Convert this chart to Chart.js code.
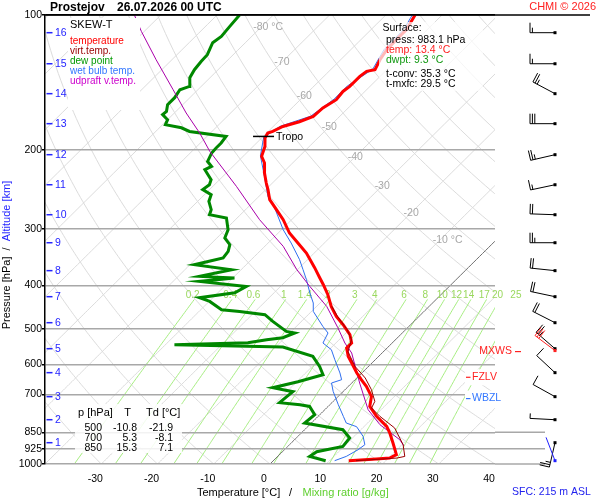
<!DOCTYPE html>
<html>
<head>
<meta charset="utf-8">
<title>Prostejov 26.07.2026 00 UTC</title>
<script src="https://cdn.jsdelivr.net/npm/chart.js@4.4.1/dist/chart.umd.min.js"></script>
<style>
    html, body { margin: 0; padding: 0; background: #fff; }
    canvas { display: block; }
</style>
</head>
<body>
<canvas id="skewt" width="600" height="500"></canvas>
<script>
'use strict'

// temperature
var tempP = [983.1, 974.7, 969.7, 953.4, 898, 852.6, 824.6, 783.4, 744.3, 707, 671.7, 649, 627, 595.7, 575.9, 551.6, 537.7, 515.3, 489.5, 469.1, 445.7, 419.7, 398.7, 384.7, 365.4, 338.9, 322, 305.9, 285.7, 271.4, 257.8, 244.9, 236.7, 224.9, 213.6, 206.5, 196.2, 187.9, 183.2, 181.7, 177.1, 172.9, 168.2, 161.1, 154.4, 148, 144.2, 137, 133.5, 132.4, 125.8, 119.5, 113.5, 107.8, 100];
var tempT = [13.4, 18.0, 20.2, 20.8, 18.1, 15.7, 14.0, 10.4, 7.4, 5.9, 3.2, 1.1, -0.9, -3.6, -5.4, -7.2, -7.2, -9.0, -12.0, -14.7, -17.4, -20.1, -22.7, -24.6, -27.3, -31.4, -34.7, -38.0, -41.5, -44.5, -47.5, -49.6, -51.1, -53.2, -55.0, -56.7, -57.9, -59.4, -59.8, -59.2, -58.3, -56.2, -54.7, -54.5, -53.6, -53.9, -53.6, -53.6, -53.3, -52.1, -53.0, -53.6, -53.7, -53.7, -54.8];

// dew point
var dewP = [983.1, 961.8, 938.9, 913.7, 875.2, 838.7, 810.4, 776.6, 744.3, 737.8, 730.2, 708.2, 690.2, 676.2, 655.7, 632.6, 606.2, 575.9, 548.8, 542.4, 536.9, 528.7, 523.3, 510.8, 506.6, 481.3, 465, 457.2, 453.3, 434.4, 426.2, 415.4, 402.2, 392, 385.3, 382.1, 369.2, 359.8, 347.7, 336.1, 324.8, 313.8, 300.8, 283.2, 278.5, 271.4, 260.1, 251.3, 244.9, 238.8, 232.7, 221.1, 217.4, 211.9, 202.9, 197.8, 192.8, 186.4, 181.7, 178.3, 175.5, 171.1, 166.7, 163.9, 158.4, 152.8, 146.7, 144.2, 137.9, 132.4, 126.9, 122.6, 115.3, 111.6, 106, 100];
var dewT = [9.3, 5.7, 6.1, 9.8, 9.5, 6.8, -1.2, -0.9, -3.3, -5.3, -9.3, -9.1, -8.9, -13.2, -9.8, -6.6, -8.7, -11.7, -18.7, -38.4, -25.7, -22.9, -20.4, -19.1, -20.9, -25.1, -27.7, -32.8, -36.3, -39.9, -42.4, -37.0, -36.1, -45.3, -39.7, -46.2, -41.7, -49.2, -45.3, -45.6, -46.5, -48.6, -49.5, -51.9, -55.5, -56.1, -58.0, -58.8, -61.2, -60.9, -61.5, -64.4, -63.8, -65.4, -66.2, -66.3, -66.3, -66.6, -74.0, -76.1, -79.5, -80.0, -81.8, -81.7, -82.7, -82.7, -83.2, -82.1, -83.6, -84.2, -84.5, -84.6, -85.8, -85.4, -85.7, -86.0];

// wet bulb temperature
var wetP = [983.1, 961.8, 929.3, 905.8, 868, 825.9, 810.4, 783.4, 737.8, 689.2, 660.1, 649, 627, 585.7, 556.5, 537.7, 510.8, 493.8, 457.2, 438, 416.1, 388.6, 369.2, 350.8, 322, 300.8, 268.6, 253.5, 228.8, 206, 187, 177, 168, 154, 144, 132, 119.5, 107.8, 100];
var wetT = [10.9, 12.2, 13.1, 13.4, 11.6, 8.7, 6.2, 4.5, 1.5, -1.8, -3.6, -2.4, -3.9, -7.2, -9.6, -12.3, -13.2, -15.3, -19.7, -21.2, -23.6, -26.6, -29.0, -31.4, -35.9, -39.7, -45.2, -48.4, -52.6, -57.0, -59.8, -58.8, -55.2, -54.1, -54.1, -52.6, -54.1, -54.2, -55.3];

// virtual temperature
var virtP = [983.1, 970, 961.8, 905.8, 831.4, 783.4, 750.4, 725.4, 683.2, 643.4, 606.2, 562.2, 528.7, 502.2, 469, 445.7];
var virtT = [14.7, 21.5, 22.6, 20.2, 15.7, 11.0, 8.0, 7.4, 4.7, 1.5, -2.4, -6.3, -7.8, -10.4, -14.5, -17.3];

// updraft virtual temperature
var updP = [910.4, 882.8, 817.5, 757, 660.1, 566, 537.7, 497.1, 445.7, 402.2, 369.2, 327.6, 285.7, 240.8, 201.3, 183.2, 165.3, 146.7, 125.8, 108.8, 100];
var updT = [20.5, 18.7, 12.5, 7.7, 1.4, -5.4, -8.4, -12.4, -18.2, -24.8, -30.1, -36.7, -45.7, -55.8, -66.8, -71.9, -77.9, -84.4, -92.8, -100.5, -104.7];

// axes
var X_TICKS = [-30, -20, -10, 0, 10, 20, 30, 40];
var P_TICKS = [100, 200, 300, 400, 500, 600, 700, 850, 925, 1000];
var ALT_KM = [1, 2, 3, 4, 5, 6, 7, 8, 9, 10, 11, 12, 13, 14, 15, 16];
var ALT_P = [896.5, 796.8, 708, 626, 553.6, 484.5, 424, 371, 321.5, 278.5, 238.8, 204.7, 174.6, 149.7, 128.4, 109.5];

// background isopleths
var ISO_LABEL_T = [-80, -70, -60, -50, -40, -30, -20, -10];
var ISO_LABEL_P = [106.6, 127.4, 151.3, 177.3, 206.8, 240, 275.7, 316.5];
var MIX_RATIOS = [0.2, 0.4, 0.6, 1, 1.4, 2, 3, 4, 6, 8, 10, 12, 14, 17, 20, 25];

// winds at the altitude levels (deg, kt)
var windDir = [193, 273, 299, 313, 311, 297, 282, 276, 270, 272, 258, 257, 270, 298, 270, 270];
var windSpd = [25, 5, 10, 10, 25, 20, 20, 20, 25, 20, 15, 25, 30, 25, 15, 15];
var SFC_WIND = [983.1, 339, 3];
var MXWS = [559, 307, 30];

// levels and tables
var TROPO = [186.4, -59.5];
var FZLV_P = 641;
var WBZL_P = 715;
var TABLE_P = [500, 700, 850];
var TABLE_T = [-10.8, 5.3, 15.3];
var TABLE_TD = [-21.9, -8.1, 7.1];
var SURFACE = { press: 983.1, temp: 13.4, dwpt: 9.3, tconv: 35.3, tmxfc: 29.5 };

var SKEW = 35;
var FONT = '"Liberation Sans", Arial, sans-serif';

function skewX(t, p) { return t + SKEW * Math.log(1000 / p); }

function toPoints(ps, ts) {
    return ps.map(function (p, i) { return { x: skewX(ts[i], p), y: p }; });
}

function mixTd(w, p) {
    var e = w * p / (622 + w);
    var a = Math.log(e / 6.112);
    return 243.5 * a / (17.67 - a);
}

function dryT(theta, p) { return (theta + 273.15) * Math.pow(p / 1000, 0.2857) - 273.15; }

function text(ctx, s, x, y, color, size, align, bold) {
    ctx.font = (bold ? 'bold ' : '') + size + 'px ' + FONT;
    ctx.fillStyle = color;
    ctx.textAlign = align || 'left';
    ctx.textBaseline = 'middle';
    ctx.fillText(s, x, y);
}

function line(ctx, x1, y1, x2, y2, color, width) {
    ctx.beginPath();
    ctx.moveTo(x1, y1);
    ctx.lineTo(x2, y2);
    ctx.strokeStyle = color;
    ctx.lineWidth = width;
    ctx.stroke();
}

function drawBarb(ctx, x, y, dir, spd, color) {
    var r = dir * Math.PI / 180, ux = Math.sin(r), uy = -Math.cos(r), nx = -uy, ny = ux;
    var ex = x + ux * 25, ey = y + uy * 25;
    var full = Math.floor(spd / 10), half = spd % 10 >= 5;
    ctx.beginPath();
    ctx.moveTo(x, y);
    ctx.lineTo(ex, ey);
    for (var k = 0; k < full; k++) {
        var bx = ex - ux * k * 2.4, by = ey - uy * k * 2.4;
        ctx.moveTo(bx, by);
        ctx.lineTo(bx + nx * 10, by + ny * 10);
    }
    if (half) {
        var hx = ex - ux * full * 2.4, hy = ey - uy * full * 2.4;
        ctx.moveTo(hx, hy);
        ctx.lineTo(hx + nx * 5, hy + ny * 5);
    }
    ctx.strokeStyle = color;
    ctx.lineWidth = 1;
    ctx.stroke();
    ctx.fillStyle = color;
    ctx.fillRect(x - 1.5, y - 1.5, 3, 3);
}

var backgroundLines = {
    id: 'backgroundLines',
    beforeDraw: function (chart) {
        var ctx = chart.ctx, a = chart.chartArea, xs = chart.scales.x, ys = chart.scales.y;
        ctx.save();
        ctx.fillStyle = '#fff';
        ctx.fillRect(0, 0, chart.width, chart.height);
        ctx.beginPath();
        ctx.rect(a.left, a.top, a.right - a.left, a.bottom - a.top);
        ctx.clip();

        function curve(fn, pTop, color) {
            ctx.beginPath();
            for (var p = 1000; p >= pTop; p -= 5) {
                var px = xs.getPixelForValue(skewX(fn(p), p)), py = ys.getPixelForValue(p);
                if (p === 1000) ctx.moveTo(px, py); else ctx.lineTo(px, py);
            }
            ctx.strokeStyle = color;
            ctx.lineWidth = 1;
            ctx.stroke();
        }

        var t;
        for (t = -120; t <= 40; t += 10) {
            if (t !== 0) curve(function () { return t; }, 100, '#dcdcdc');
        }
        for (t = -40; t <= 180; t += 10) {
            curve(function (p) { return dryT(t, p); }, 100, '#dcdcdc');
        }
        MIX_RATIOS.forEach(function (w) {
            curve(function (p) { return mixTd(w, p); }, 430, '#a6ee80');
        });
        curve(function () { return 0; }, 100, '#707070');
        ctx.restore();
    },
    beforeDatasetsDraw: function (chart) {
        var ctx = chart.ctx, xs = chart.scales.x, ys = chart.scales.y;
        ctx.save();
        ISO_LABEL_T.forEach(function (t, i) {
            var p = ISO_LABEL_P[i];
            var px = xs.getPixelForValue(skewX(t, p)), py = ys.getPixelForValue(p);
            ctx.font = '10.5px ' + FONT;
            var w = ctx.measureText(String(t)).width;
            var s = (t === -80 || t === -10) ? t + ' °C' : String(t);
            text(ctx, s, px - w / 2, py, '#a8a8a8', 10.5, 'left');
        });
        MIX_RATIOS.forEach(function (w) {
            var p = 420;
            var px = xs.getPixelForValue(skewX(mixTd(w, p), p)) - 5, py = ys.getPixelForValue(p);
            text(ctx, String(w), px, py, '#9ad85e', 10, 'center');
        });
        ctx.restore();
    }
};

var overlay = {
    id: 'overlay',
    afterDraw: function (chart) {
        var ctx = chart.ctx, a = chart.chartArea, xs = chart.scales.x, ys = chart.scales.y;
        ctx.save();

        // frame and extended lines
        line(ctx, a.left, a.top, 590, a.top, '#000', 1.5);
        [850, 925, 1000].forEach(function (p) {
            var y = ys.getPixelForValue(p);
            line(ctx, a.right, y, 545, y, '#a8a8a8', 1.5);
        });

        // altitude scale
        ALT_KM.forEach(function (km, i) {
            var y = ys.getPixelForValue(ALT_P[i]);
            line(ctx, a.left + 1.5, y, a.left + 7.5, y, '#2424ff', 1.5);
            text(ctx, String(km), a.left + 10, y, '#2424ff', 10.5, 'left');
        });

        // tropopause
        var tx = xs.getPixelForValue(skewX(TROPO[1], TROPO[0])), ty = ys.getPixelForValue(TROPO[0]);
        line(ctx, tx - 13, ty, tx + 8, ty, '#000', 1.5);
        text(ctx, 'Tropo', tx + 10, ty + 1, '#000', 10.5, 'left');

        // levels
        var fy = ys.getPixelForValue(FZLV_P), wy = ys.getPixelForValue(WBZL_P), my = ys.getPixelForValue(MXWS[0]) + 1;
        ctx.fillStyle = '#fff';
        ctx.fillRect(465, fy - 8, 42, 16);
        ctx.fillRect(465, wy - 8, 42, 16);
        line(ctx, 466, fy, 470.5, fy, '#ff2020', 1.2);
        text(ctx, 'FZLV', 472, fy, '#ff2020', 10.5, 'left');
        line(ctx, 466, wy, 470.5, wy, '#3377ff', 1.2);
        text(ctx, 'WBZL', 472, wy, '#3377ff', 10.5, 'left');
        text(ctx, 'MXWS', 512, my, '#ff2020', 10.5, 'right');
        line(ctx, 515, my, 521, my, '#ff2020', 1.2);

        // legend box
        ctx.fillStyle = '#fff';
        ctx.fillRect(68, 18, 72, 92);
        text(ctx, 'SKEW-T', 70, 25, '#000', 11, 'left');
        var names = ['temperature', 'virt.temp.', 'dew point', 'wet bulb temp.', 'udpraft v.temp.'];
        var cols = ['#ff0000', '#990000', '#009900', '#3377ff', '#cc00cc'];
        names.forEach(function (n, i) { text(ctx, n, 70, 41.7 + i * 10, cols[i], 10, 'left'); });

        // surface box
        ctx.fillStyle = 'rgba(255,255,255,0.72)';
        ctx.fillRect(379, 22, 104, 69);
        text(ctx, 'Surface:', 382.5, 27.7, '#000', 10.5, 'left');
        text(ctx, 'press: ' + SURFACE.press.toFixed(1) + ' hPa', 386, 40, '#000', 10.5, 'left');
        text(ctx, 'temp: ' + SURFACE.temp.toFixed(1) + ' °C', 386, 50, '#ff2020', 10.5, 'left');
        text(ctx, 'dwpt: ' + SURFACE.dwpt.toFixed(1) + ' °C', 386, 60, '#119911', 10.5, 'left');
        text(ctx, 't-conv: ' + SURFACE.tconv.toFixed(1) + ' °C', 386, 74, '#000', 10.5, 'left');
        text(ctx, 't-mxfc: ' + SURFACE.tmxfc.toFixed(1) + ' °C', 386, 84.3, '#000', 10.5, 'left');

        // table box
        ctx.fillStyle = 'rgba(255,255,255,0.85)';
        ctx.fillRect(75, 404, 107, 49);
        text(ctx, 'p [hPa]', 78, 413.3, '#000', 11, 'left');
        text(ctx, 'T', 127.5, 413.3, '#000', 11, 'center');
        text(ctx, 'Td [°C]', 146, 413.3, '#000', 11, 'left');
        TABLE_P.forEach(function (p, i) {
            var y = 428.3 + i * 10;
            text(ctx, String(p), 102, y, '#000', 10.5, 'right');
            text(ctx, TABLE_T[i].toFixed(1), 137, y, '#000', 10.5, 'right');
            text(ctx, TABLE_TD[i].toFixed(1), 173, y, '#000', 10.5, 'right');
        });

        // winds
        ALT_KM.forEach(function (km, i) {
            drawBarb(ctx, 555, ys.getPixelForValue(ALT_P[i]), windDir[i], windSpd[i], '#000');
        });
        drawBarb(ctx, 555, ys.getPixelForValue(MXWS[0]), MXWS[1], MXWS[2], '#ff2020');
        drawBarb(ctx, 555, ys.getPixelForValue(SFC_WIND[0]), SFC_WIND[1], SFC_WIND[2], '#2020ff');

        // titles
        text(ctx, 'Prostejov', 50, 7.8, '#000', 12, 'left', true);
        text(ctx, '26.07.2026 00 UTC', 117, 7.8, '#000', 12, 'left', true);
        text(ctx, 'CHMI © 2026', 596, 7, '#ff2020', 11, 'right');
        text(ctx, 'SFC: 215 m ASL', 512, 492, '#2222ee', 10.5, 'left');
        text(ctx, 'Temperature [°C]', 197, 493, '#000', 11, 'left');
        text(ctx, '/', 289, 493, '#000', 11, 'left');
        text(ctx, 'Mixing ratio [g/kg]', 302.5, 493, '#5fcf2f', 11, 'left');

        ctx.translate(7, 255);
        ctx.rotate(-Math.PI / 2);
        ctx.font = '11px ' + FONT;
        var p1 = 'Pressure [hPa]', p2 = '  /  ', p3 = 'Altitude [km]';
        var w1 = ctx.measureText(p1).width, w2 = ctx.measureText(p2).width, w3 = ctx.measureText(p3).width;
        var x0 = -(w1 + w2 + w3) / 2;
        text(ctx, p1, x0, 0, '#000', 11, 'left');
        text(ctx, p2, x0 + w1, 0, '#000', 11, 'left');
        text(ctx, p3, x0 + w1 + w2, 0, '#2424ff', 11, 'left');
        ctx.restore();
    }
};

Chart.defaults.font.family = FONT;
Chart.defaults.color = '#000';

function profile(label, ps, ts, color, width) {
    return {
        label: label,
        data: toPoints(ps, ts),
        showLine: true,
        borderColor: color,
        backgroundColor: color,
        borderWidth: width,
        pointRadius: 0,
        tension: 0
    };
}

new Chart(document.getElementById('skewt'), {
    type: 'scatter',
    data: {
        datasets: [
            profile('virt.temp.', virtP, virtT, '#990000', 1),
            profile('temperature', tempP, tempT, '#ff0000', 3),
            profile('udpraft v.temp.', updP, updT, '#aa00aa', 1),
            profile('wet bulb temp.', wetP, wetT, '#2f6fef', 1),
            profile('dew point', dewP, dewT, '#008800', 3)
        ]
    },
    options: {
        responsive: false,
        animation: false,
        events: [],
        layout: { padding: { top: 15, right: 105, left: 0, bottom: 0 } },
        scales: {
            x: {
                type: 'linear',
                min: -40,
                max: 40,
                afterBuildTicks: function (s) { s.ticks = X_TICKS.map(function (v) { return { value: v }; }); },
                afterFit: function (s) { s.height = 36; },
                grid: { display: false },
                border: { display: false },
                ticks: { labelOffset: -6, padding: 1, autoSkip: false, maxRotation: 0, font: { size: 10.5 } }
            },
            y: {
                type: 'logarithmic',
                reverse: true,
                min: 100,
                max: 1000,
                afterBuildTicks: function (s) { s.ticks = P_TICKS.map(function (v) { return { value: v }; }); },
                afterFit: function (s) { s.width = 45; },
                grid: {
                    color: function (c) { return c.tick && c.tick.value === 100 ? '#000' : '#a8a8a8'; },
                    lineWidth: 1.5,
                    tickLength: 3,
                    tickColor: '#000'
                },
                border: { color: '#000', width: 1.5 },
                ticks: {
                    autoSkip: false,
                    padding: 0,
                    font: { size: 10.5 },
                    callback: function (v) { return String(v); }
                }
            }
        },
        plugins: { legend: { display: false }, tooltip: { enabled: false } }
    },
    plugins: [backgroundLines, overlay]
});
</script>
</body>
</html>
